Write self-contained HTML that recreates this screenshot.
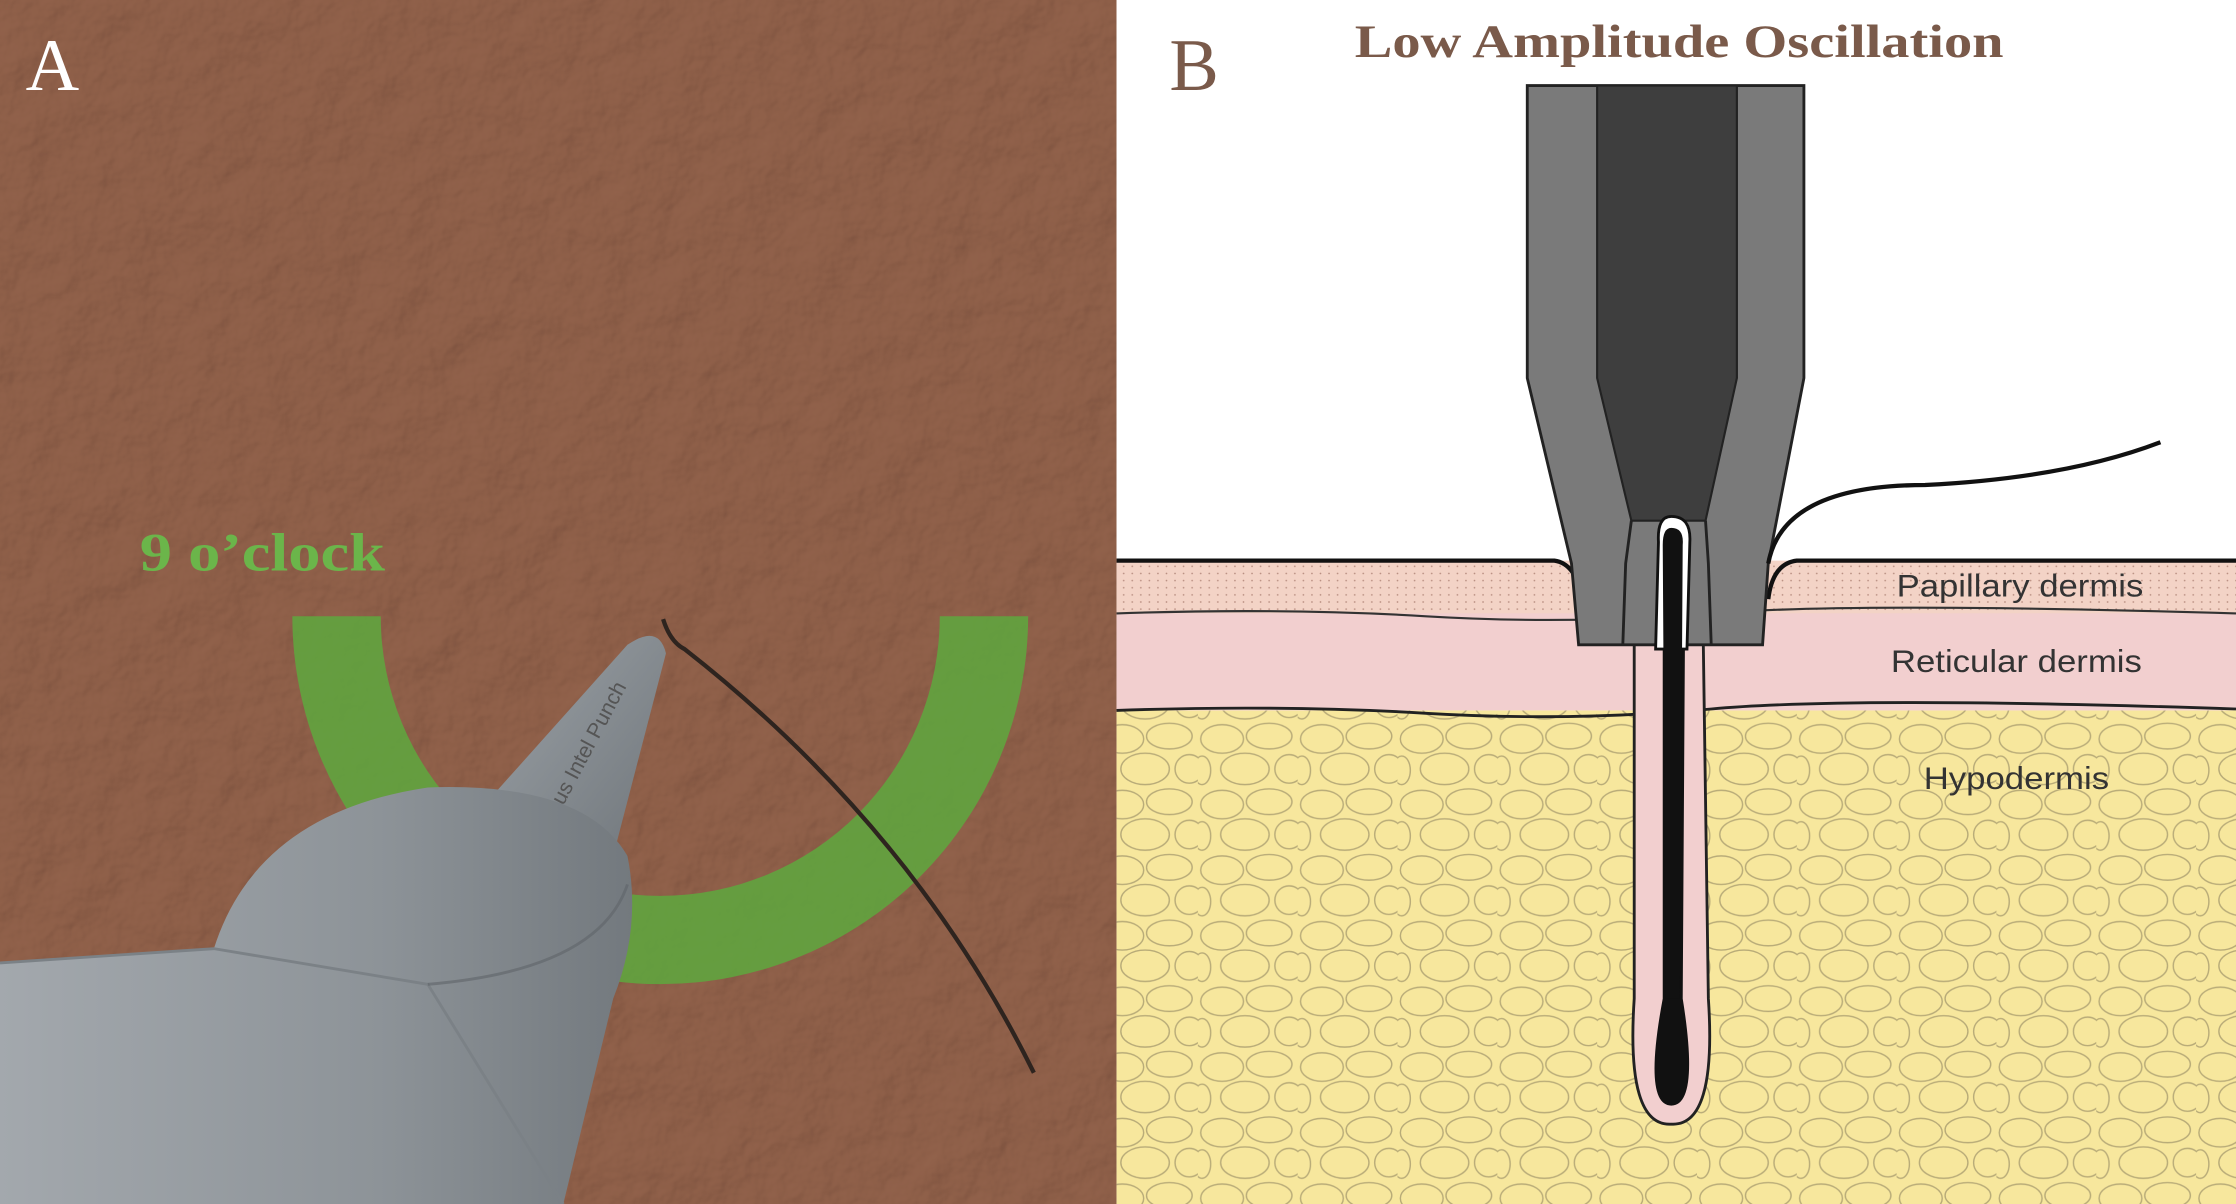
<!DOCTYPE html>
<html><head><meta charset="utf-8"><style>
html,body{margin:0;padding:0;width:2236px;height:1204px;overflow:hidden;background:#fff}
svg{display:block}
</style></head><body>
<svg width="2236" height="1204" viewBox="0 0 1568 844" preserveAspectRatio="none" xmlns="http://www.w3.org/2000/svg">
<defs>
<filter id="skin" x="0" y="0" width="100%" height="100%">
<feTurbulence type="fractalNoise" baseFrequency="0.03" numOctaves="4" seed="3" result="n"/>
<feDiffuseLighting in="n" surfaceScale="5" lighting-color="#fff" result="l"><feDistantLight azimuth="225" elevation="50"/></feDiffuseLighting>
<feComposite in="l" in2="SourceGraphic" operator="arithmetic" k1="1" k2="0" k3="0" k4="0"/>
</filter>
<pattern id="cells" width="70" height="46" patternUnits="userSpaceOnUse">
<rect width="70" height="46" fill="#f7e79d"/>
<g fill="none" stroke="#b8ab78" stroke-width="1">
<ellipse cx="17" cy="12" rx="15" ry="10"/><ellipse cx="50" cy="10" rx="16" ry="9"/>
<ellipse cx="33" cy="33" rx="17" ry="11"/><ellipse cx="64" cy="33" rx="10" ry="10"/><ellipse cx="3" cy="34" rx="6" ry="10"/>
</g>
</pattern>
<pattern id="dots" width="6" height="5" patternUnits="userSpaceOnUse">
<rect width="6" height="5" fill="#f3d3c6"/><circle cx="2" cy="2" r="0.6" fill="#b78d80"/>
</pattern>
<linearGradient id="body" x1="0" y1="0" x2="1" y2="0"><stop offset="0" stop-color="#a3a8ad"/><stop offset="0.6" stop-color="#8d9398"/><stop offset="1" stop-color="#73797e"/></linearGradient>
<linearGradient id="cone" x1="0" y1="0" x2="1" y2="1"><stop offset="0" stop-color="#9ba1a6"/><stop offset="1" stop-color="#70767b"/></linearGradient>
</defs>
<!-- Left panel -->
<rect x="0" y="0" width="783" height="844" fill="#8e6855"/>
<rect x="0" y="0" width="783" height="844" fill="#8e6855" filter="url(#skin)" opacity="0.55" style="mix-blend-mode:soft-light"/>
<text x="18" y="63" font-family="Liberation Serif, serif" font-size="52" fill="#fff">A</text>
<text x="98" y="400" font-family="Liberation Serif, serif" font-weight="bold" font-size="38" fill="#6bb54a" textLength="172" lengthAdjust="spacingAndGlyphs">9 o’clock</text>
<path d="M205 432 A258 258 0 0 0 721 432 L659 432 A196 196 0 0 1 267 432 Z" fill="#5ea83e" opacity="0.85"/>
<!-- device -->
<path d="M347 556 L440 452 Q462 437 467 458 L430 600 Z" fill="url(#cone)"/>
<text x="0" y="0" transform="translate(395 565) rotate(-62)" font-family="Liberation Sans, sans-serif" font-size="15" fill="#555">us Intel Punch</text>
<path d="M150 665 Q180 570 300 552 Q410 548 440 600 Q450 650 430 700 L395 844 L0 844 L0 675 Z" fill="url(#body)"/>
<path d="M0 675 L150 665 L300 690 L395 844" fill="none" stroke="#7b8186" stroke-width="2"/>
<path d="M300 690 Q420 680 440 620" fill="none" stroke="#5f6469" stroke-width="2" opacity="0.6"/>
<path d="M465 434 Q470 450 480 455 Q640 580 725 752" fill="none" stroke="#2e241f" stroke-width="3"/>
<!-- Right panel -->
<rect x="783" y="0" width="785" height="844" fill="#fff"/>
<rect x="783" y="498" width="785" height="346" fill="url(#cells)"/>
<rect x="783" y="428" width="785" height="70" fill="#f2cfcf"/>
<rect x="783" y="393" width="785" height="37" fill="url(#dots)"/>
<path d="M783 430 Q900 426 1000 432 T1200 430 T1568 430" stroke="#333" stroke-width="1.5" fill="none"/>
<path d="M783 498 Q900 494 1000 500 T1200 497 T1568 497" stroke="#222" stroke-width="2" fill="none"/>
<path d="M783 393 L1090 393 Q1105 395 1110 420" stroke="#111" stroke-width="3" fill="none"/>
<path d="M1240 420 Q1243 395 1260 393 L1568 393" stroke="#111" stroke-width="3" fill="none"/>
<!-- follicle -->
<path d="M1146 420 L1146 700 Q1140 790 1172 788 Q1204 790 1198 700 L1194 420 Z" fill="#f2cfcf" stroke="#222" stroke-width="2"/>
<path d="M1166 380 Q1162 368 1172 366 Q1184 368 1182 380 L1180 700 Q1192 775 1172 775 Q1152 775 1166 700 Z" fill="#111"/>
<!-- instrument -->
<path d="M1071 60 L1265 60 L1265 265 L1240 395 L1236 452 L1107 452 L1102 395 L1071 265 Z" fill="#7a7a7a" stroke="#222" stroke-width="2"/>
<path d="M1120 60 L1218 60 L1218 265 L1196 365 L1144 365 L1120 265 Z" fill="#3e3e3e" stroke="#222" stroke-width="1.5"/>
<path d="M1138 452 L1140 395 L1144 365 M1200 452 L1198 395 L1196 365" stroke="#222" stroke-width="2" fill="none"/>
<path d="M1163 380 Q1162 362 1172 362 Q1186 362 1185 380 L1183 455 L1161 455 Z" fill="#fff" stroke="#111" stroke-width="2"/>
<path d="M1166 382 Q1166 370 1172 370 Q1181 370 1180 382 L1178 700 L1168 700 Z" fill="#111"/>
<path d="M1240 395 Q1250 340 1350 340 Q1450 335 1515 310" fill="none" stroke="#111" stroke-width="3"/>
<text x="820" y="63" font-family="Liberation Serif, serif" font-size="52" fill="#7a5a4a">B</text>
<text x="950" y="40" font-family="Liberation Serif, serif" font-weight="bold" font-size="33" fill="#7a5a4a" textLength="455" lengthAdjust="spacingAndGlyphs">Low Amplitude Oscillation</text>
<g font-family="Liberation Sans, sans-serif" font-size="22" fill="#333">
<text x="1330" y="418" textLength="173" lengthAdjust="spacingAndGlyphs">Papillary dermis</text>
<text x="1326" y="471" textLength="176" lengthAdjust="spacingAndGlyphs">Reticular dermis</text>
<text x="1349" y="553" textLength="130" lengthAdjust="spacingAndGlyphs">Hypodermis</text>
</g>
</svg>
</body></html>
